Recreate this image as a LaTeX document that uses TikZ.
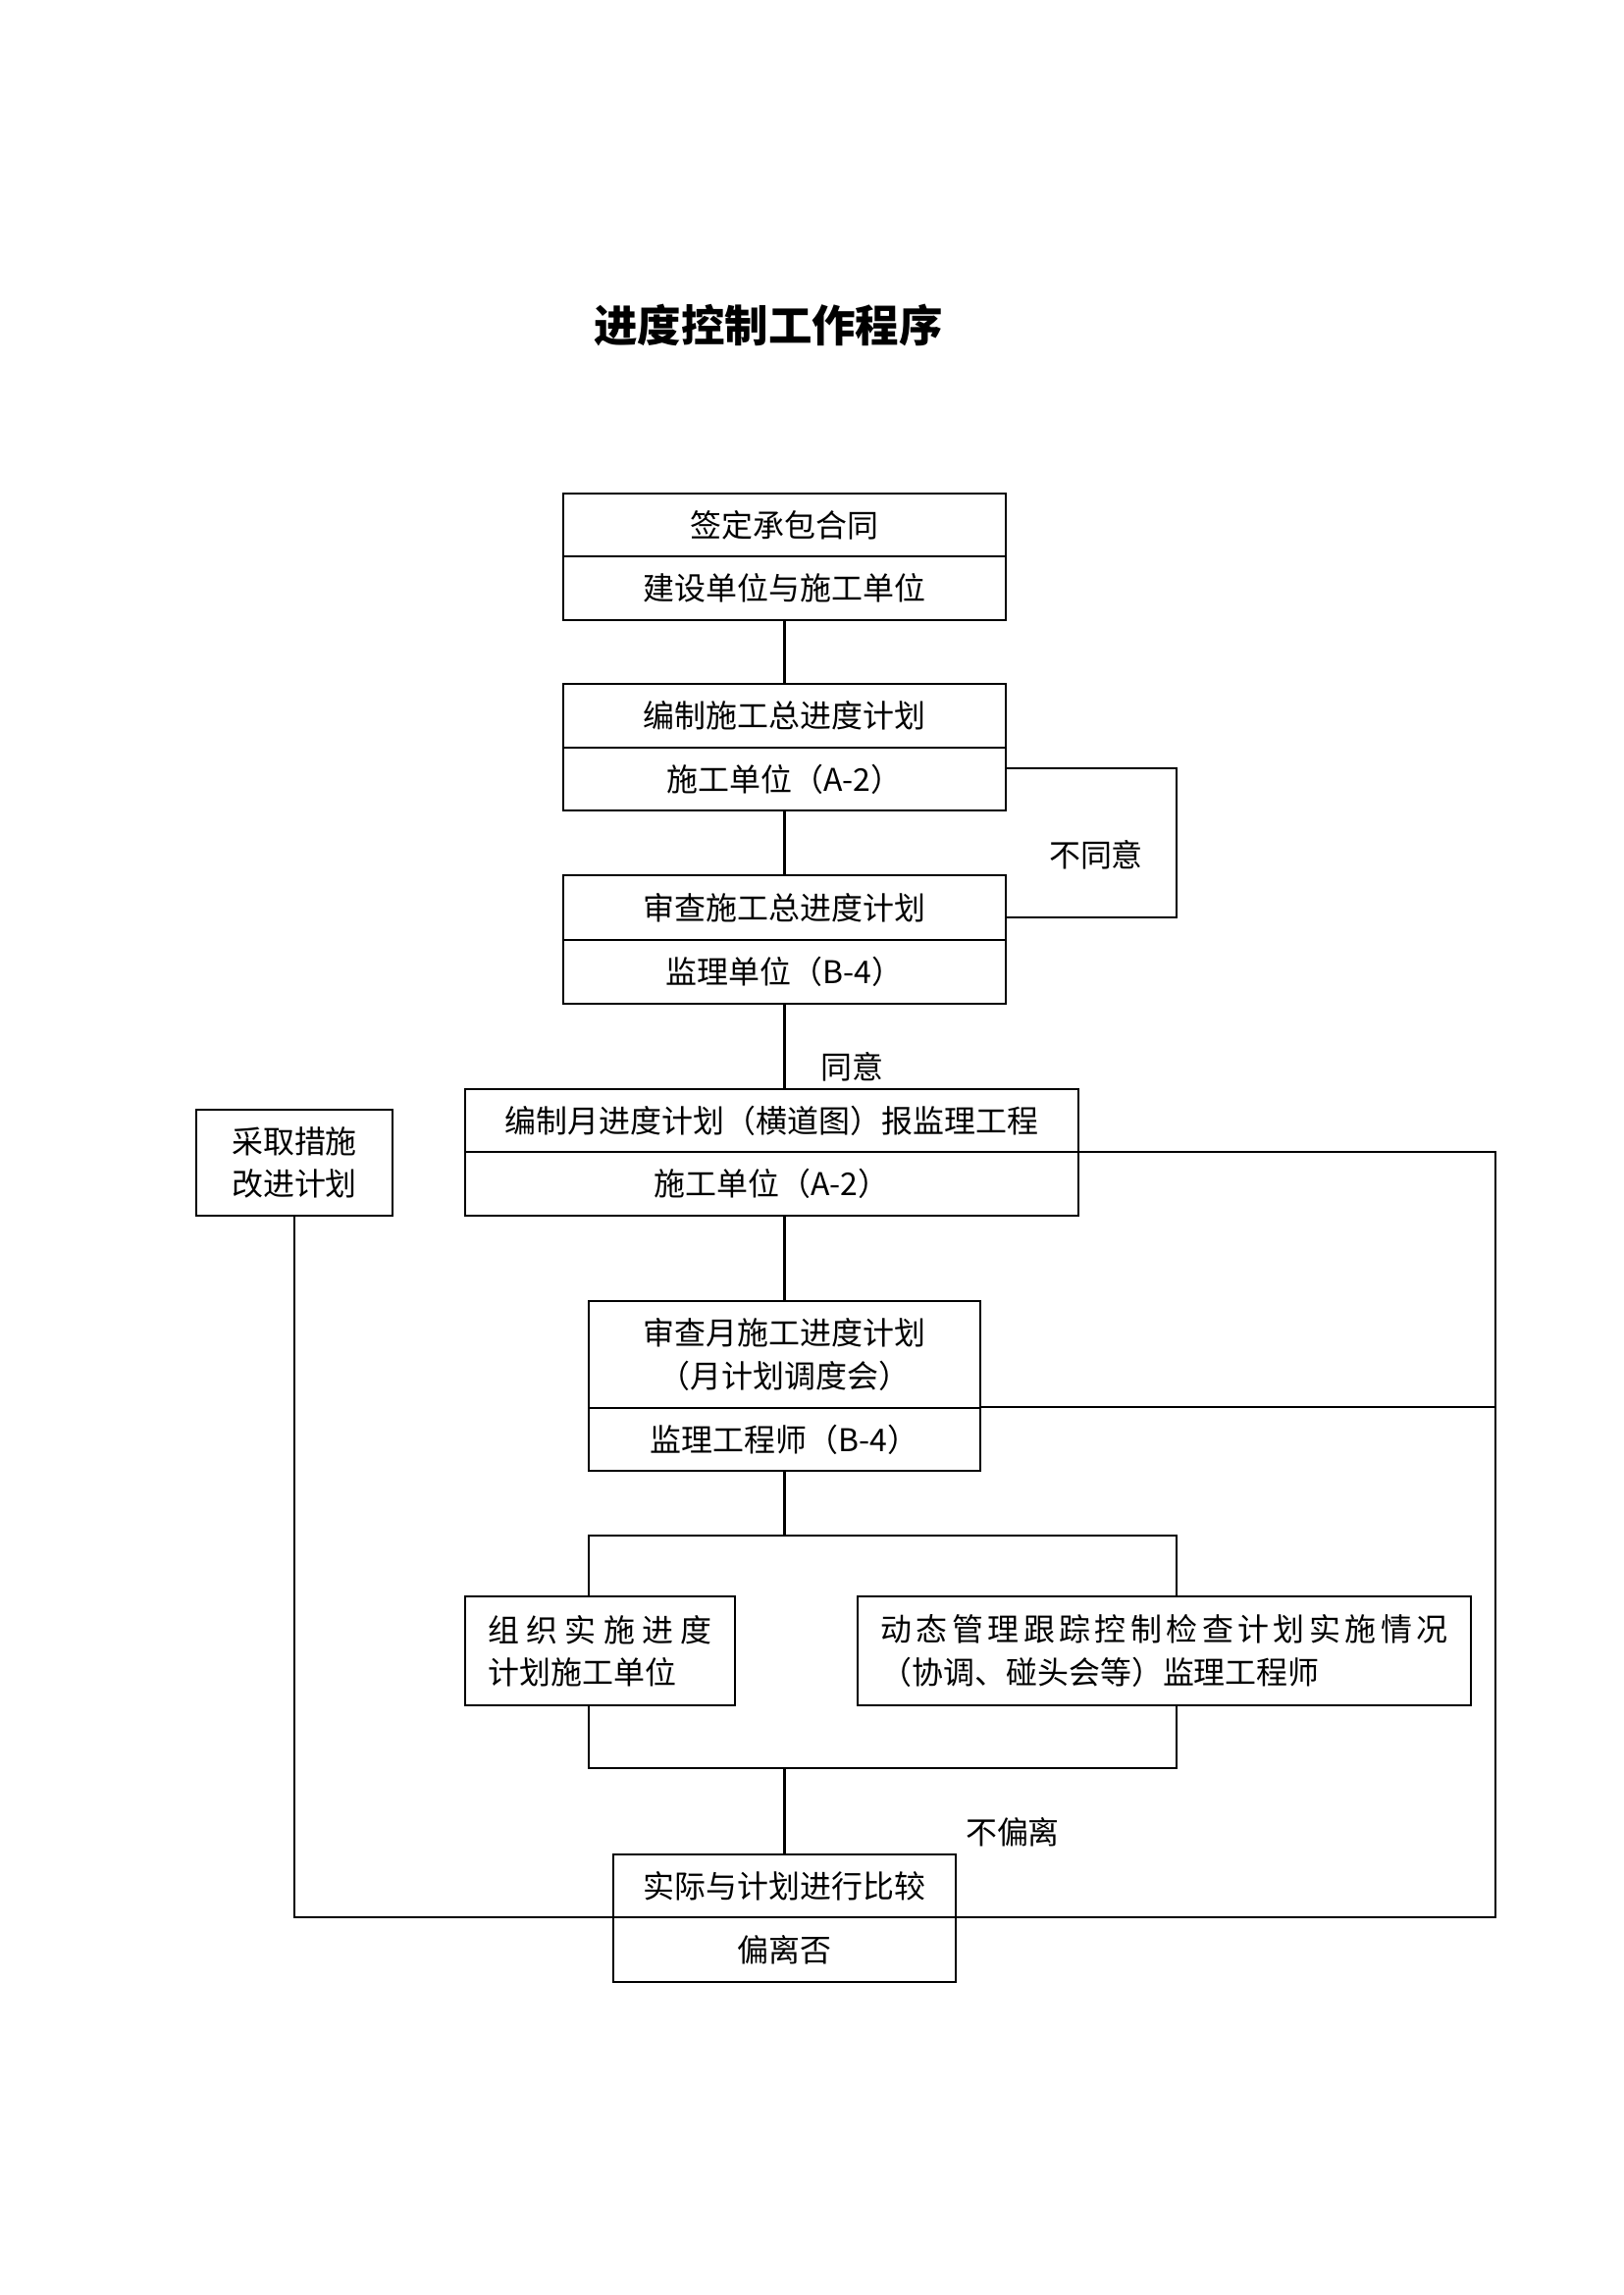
\documentclass[tikz,border=0pt]{standalone}
\usepackage{fontspec}
\newfontfamily\cjk{Noto Sans CJK SC}
\def\u{0.36pt}
\begin{document}
\begin{tikzpicture}[x=0.36pt,y=-0.36pt, line width=0.75pt,
  box/.style={draw, rectangle, inner sep=0pt, font=\cjk\fontsize{11.5pt}{15.5pt}\selectfont, align=center},
  lbl/.style={font=\cjk\fontsize{11.5pt}{15.5pt}\selectfont, inner sep=0pt}]
\useasboundingbox (0,0) rectangle (1654,2339);
\node[font=\cjk\bfseries\fontsize{16pt}{20pt}\selectfont] (title) at (783,331) {进度控制工作程序};
% box 1
\node[box, minimum width=451*\u, minimum height=64*\u] (b1a) at (799.5,535) {签定承包合同};
\node[box, minimum width=451*\u, minimum height=65*\u] (b1b) at (799.5,599.5) {建设单位与施工单位};
% box 2
\node[box, minimum width=451*\u, minimum height=65*\u] (b2a) at (799.5,729.5) {编制施工总进度计划};
\node[box, minimum width=451*\u, minimum height=64*\u] (b2b) at (799.5,794) {施工单位（A-2）};
% box 3
\node[box, minimum width=451*\u, minimum height=66*\u] (b3a) at (799.5,925) {审查施工总进度计划};
\node[box, minimum width=451*\u, minimum height=65*\u] (b3b) at (799.5,990.5) {监理单位（B-4）};
% box 4
\node[box, minimum width=625*\u, minimum height=64*\u] (b4a) at (786.5,1142) {编制月进度计划（横道图）报监理工程};
\node[box, minimum width=625*\u, minimum height=65*\u] (b4b) at (786.5,1206.5) {施工单位（A-2）};
% side box
\node[box, minimum width=200*\u, minimum height=108*\u] (side) at (300,1185) {采取措施\\改进计划};
% box 5
\node[box, minimum width=399*\u, minimum height=109*\u] (b5a) at (799.5,1380.5) {审查月施工进度计划\\（月计划调度会）};
\node[box, minimum width=399*\u, minimum height=64*\u] (b5b) at (799.5,1467) {监理工程师（B-4）};
% box 6, 7
\node[box, align=left, minimum width=275*\u, minimum height=111*\u] (b6) at (611.5,1682.5)
  {\makebox[82.08pt][s]{组\hfill 织\hfill 实\hfill 施\hfill 进\hfill 度}\\计划施工单位};
\node[box, align=left, minimum width=625*\u, minimum height=111*\u] (b7) at (1186.5,1682.5)
  {\makebox[208.08pt][s]{动\hfill 态\hfill 管\hfill 理\hfill 跟\hfill 踪\hfill 控\hfill 制\hfill 检\hfill 查\hfill 计\hfill 划\hfill 实\hfill 施\hfill 情\hfill 况}\\（协调、碰头会等）监理工程师};
% box 8
\node[box, minimum width=349*\u, minimum height=64*\u] (b8a) at (799.5,1922) {实际与计划进行比较};
\node[box, minimum width=349*\u, minimum height=66*\u] (b8b) at (799.5,1987) {偏离否};
% labels
\node[lbl] (ng) at (1117,871) {不同意};
\node[lbl] (ag) at (868,1087) {同意};
\node[lbl] (np) at (1032,1867) {不偏离};
% connectors
\draw (b1b.south) -- (b2a.north);
\draw (b2b.south) -- (b3a.north);
\coordinate (l1) at (1199,783);
\coordinate (l2) at (1199,935);
\draw (l1 -| b2b.east) -- (l1) -- (l2) -- (l2 -| b3a.east);
\draw (b3b.south) -- (b3b.south |- b4a.north);
\draw (b5a.north |- b4b.south) -- (b5a.north);
\coordinate (r1) at (1524,1174);
\coordinate (r2) at (1524,1954);
\draw (r1 -| b4a.east) -- (r1) -- (r2) -- (r2 -| b8a.east);
\draw (b5b.north east) -- (b5b.north east -| r1);
\coordinate (s1) at (300,1954);
\draw (side.south) -- (s1) -- (s1 -| b8a.west);
\coordinate (t1) at (600,1565);
\coordinate (t2) at (1199,1565);
\draw (b5b.south) -- (b5b.south |- t1);
\draw (t1 |- b6.north) -- (t1) -- (t2) -- (t2 |- b7.north);
\coordinate (m1) at (600,1802);
\coordinate (m2) at (1199,1802);
\draw (m1 |- b6.south) -- (m1) -- (m2) -- (m2 |- b7.south);
\draw (b8a.north |- m1) -- (b8a.north);
\end{tikzpicture}
\end{document}
